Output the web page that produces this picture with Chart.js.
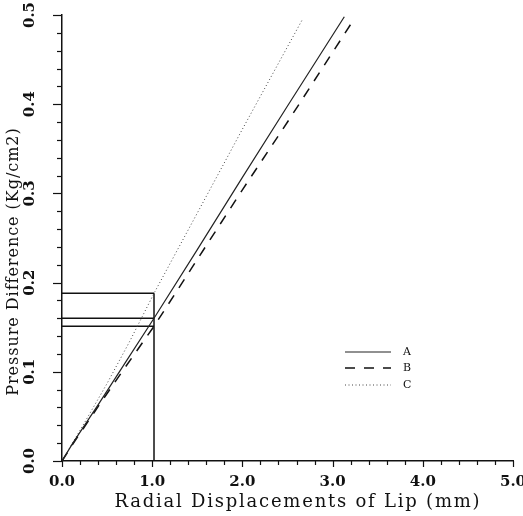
<!DOCTYPE html>
<html>
<head>
<meta charset="utf-8">
<script src="https://cdn.jsdelivr.net/npm/chart.js@4.4.0/dist/chart.umd.min.js"></script>
<style>
  html, body { margin: 0; padding: 0; background: #fff; }
  canvas { display: block; }
</style>
</head>
<body>
<canvas id="chart" width="523" height="516"></canvas>
<script>
// values
const xTickLabels = ["0.0", "1.0", "2.0", "3.0", "4.0", "5.0"];
const yTickLabels = ["0.0", "0.1", "0.2", "0.3", "0.4", "0.5"];
const seriesNames = ["A", "B", "C"];

const aX = [0, 0.12, 0.4, 0.7, 1.02, 1.5, 2.0, 2.5, 3.13];
const aY = [0, 0.020, 0.063, 0.110, 0.160, 0.237, 0.318, 0.398, 0.498];
const bX = [0, 0.12, 0.4, 0.7, 1.02, 1.5, 2.0, 2.5, 3.21];
const bY = [0, 0.019, 0.061, 0.105, 0.151, 0.226, 0.304, 0.380, 0.491];
const cX = [0, 0.25, 0.5, 0.75, 1.02, 1.5, 2.0, 2.66];
const cY = [0, 0.043, 0.087, 0.134, 0.188, 0.278, 0.372, 0.494];

// reference lines drawn at x = 1.02 (one level per curve: A, B, C)
const refX = 1.02;
const refLevels = [0.160, 0.151, 0.188];

const pts = (xs, ys) => xs.map((x, i) => ({ x: x, y: ys[i] }));

const datasets = [
  { label: "A", data: pts(aX, aY), borderColor: "#222", borderWidth: 1.2, borderDash: [] },
  { label: "B", data: pts(bX, bY), borderColor: "#111", borderWidth: 1.5, borderDash: [10, 9] },
  { label: "C", data: pts(cX, cY), borderColor: "#444", borderWidth: 1, borderDash: [1, 2.5] }
];
refLevels.forEach(lv => {
  datasets.push({ label: "", data: [{ x: 0, y: lv }, { x: refX, y: lv }], borderColor: "#111", borderWidth: 1.5, borderDash: [] });
});
datasets.push({ label: "", data: [{ x: refX, y: 0 }, { x: refX, y: Math.max(...refLevels) }], borderColor: "#111", borderWidth: 1.5, borderDash: [] });
datasets.forEach(d => { d.showLine = true; d.pointRadius = 0; d.fill = false; d.tension = 0; });

// ticks, rotated labels, titles and legend like the original
const axisDecor = {
  id: "axisDecor",
  afterDraw(chart) {
    const ctx = chart.ctx;
    const xs = chart.scales.x, ys = chart.scales.y;
    const left = xs.left, bottom = ys.bottom;
    ctx.save();
    ctx.strokeStyle = "#111";
    ctx.lineWidth = 1.2;

    // y ticks every 0.02, major every 0.1
    for (let i = 0; i <= 25; i++) {
      const y = Math.round(ys.getPixelForValue(i * 0.02)) + 0.5;
      const len = i % 5 === 0 ? 9 : 5;
      ctx.beginPath(); ctx.moveTo(left - len, y); ctx.lineTo(left, y); ctx.stroke();
    }
    // x ticks every 0.2
    for (let i = 0; i <= 25; i++) {
      const x = Math.round(xs.getPixelForValue(i * 0.2)) + 0.5;
      const len = i % 5 === 0 ? 6 : 4;
      ctx.beginPath(); ctx.moveTo(x, bottom); ctx.lineTo(x, bottom + len); ctx.stroke();
    }

    ctx.fillStyle = "#111";
    ctx.font = "bold 15px 'DejaVu Serif'";
    ctx.textAlign = "center";
    ctx.textBaseline = "middle";
    xTickLabels.forEach((t, i) => {
      ctx.fillText(t, xs.getPixelForValue(i), bottom + 21);
    });
    yTickLabels.forEach((t, i) => {
      ctx.save();
      ctx.translate(30, ys.getPixelForValue(i * 0.1));
      ctx.rotate(-Math.PI / 2);
      ctx.fillText(t, 0, 0);
      ctx.restore();
    });

    ctx.font = "18px 'DejaVu Serif'";
    spaced(ctx, "Radial Displacements of Lip (mm)", 297, 502, 367);
    ctx.font = "16px 'DejaVu Serif'";
    ctx.save();
    ctx.translate(14, 262);
    ctx.rotate(-Math.PI / 2);
    spaced(ctx, "Pressure Difference (Kg/cm2)", 0, 0, 268);
    ctx.restore();

    // legend
    ctx.font = "11px 'DejaVu Serif'";
    ctx.textAlign = "left";
    [352, 368, 385].forEach((ly, i) => {
      const ds = chart.data.datasets[i];
      ctx.strokeStyle = ds.borderColor;
      ctx.lineWidth = ds.borderWidth;
      ctx.setLineDash(ds.borderDash);
      ctx.beginPath(); ctx.moveTo(345, ly); ctx.lineTo(391, ly); ctx.stroke();
      ctx.setLineDash([]);
      ctx.fillText(seriesNames[i], 403, ly);
    });
    ctx.restore();
  }
};

function spaced(ctx, text, cx, cy, width) {
  ctx.letterSpacing = "0px";
  const w = ctx.measureText(text).width;
  const extra = (width - w) / text.length;
  ctx.letterSpacing = extra + "px";
  ctx.fillText(text, cx + extra / 2, cy);
  ctx.letterSpacing = "0px";
}

new Chart(document.getElementById("chart"), {
  type: "scatter",
  data: { datasets: datasets },
  options: {
    responsive: false,
    animation: false,
    devicePixelRatio: 1,
    layout: { padding: { top: 15, right: 10, left: 0, bottom: 0 } },
    plugins: { legend: { display: false }, tooltip: { enabled: false } },
    scales: {
      x: {
        type: "linear", min: 0, max: 5,
        ticks: { display: false },
        grid: { display: false },
        border: { display: true, color: "#111", width: 1.5 },
        afterFit(s) { s.height = 55; }
      },
      y: {
        type: "linear", min: 0, max: 0.5,
        ticks: { display: false },
        grid: { display: false },
        border: { display: true, color: "#111", width: 1.5 },
        afterFit(s) { s.width = 62; }
      }
    }
  },
  plugins: [axisDecor]
});
</script>
</body>
</html>
